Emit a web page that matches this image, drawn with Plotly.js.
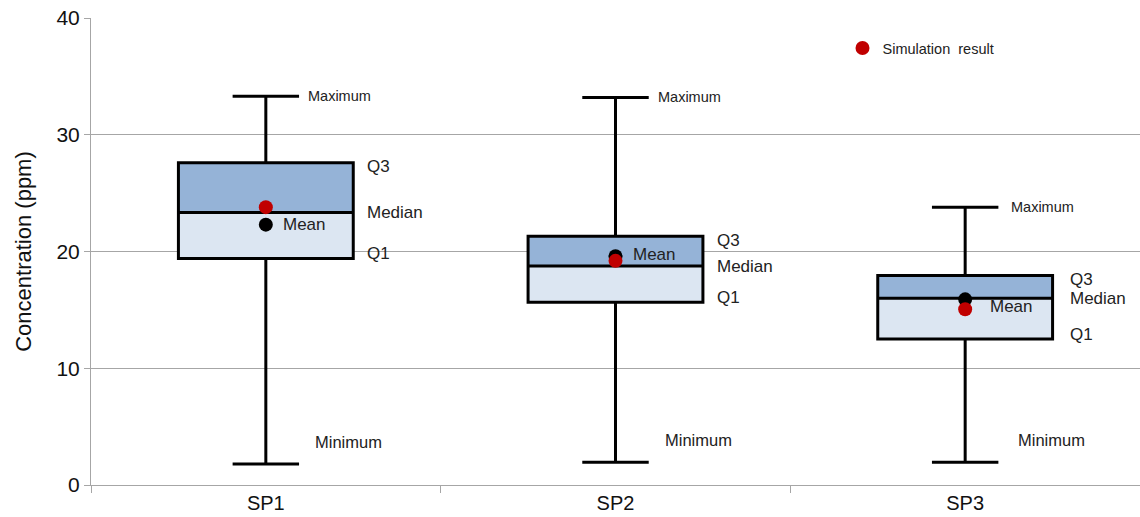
<!DOCTYPE html>
<html><head><meta charset="utf-8">
<script src="https://cdn.plot.ly/plotly-3.0.1.min.js"></script>
<style>html,body{margin:0;padding:0;background:#fff}#chart{width:1140px;height:517px}</style>
</head><body><div id="chart"></div>
<script>
const categories = ['SP1', 'SP2', 'SP3'];
const minimum = [1.8, 1.95, 1.95];
const q1 = [19.4, 15.65, 12.5];
const median = [23.35, 18.75, 16.0];
const q3 = [27.6, 21.3, 17.95];
const maximum = [33.3, 33.2, 23.8];
const meanValues = [22.3, 19.6, 15.9];
const simulation = [23.8, 19.2, 15.05];
const tickValues = [0, 10, 20, 30, 40];

const lowerDiff = categories.map((c, i) => median[i] - q1[i]);
const upperDiff = categories.map((c, i) => q3[i] - median[i]);

const traces = [
  {type: 'bar', x: categories, y: lowerDiff, base: q1, width: 0.5,
   marker: {color: '#dce6f2', line: {width: 0}}, showlegend: false, hoverinfo: 'skip'},
  {type: 'bar', x: categories, y: upperDiff, base: median, width: 0.5,
   marker: {color: '#95b3d7', line: {width: 0}}, showlegend: false, hoverinfo: 'skip'},
  {type: 'box', x: categories, q1: q1, median: median, q3: q3,
   lowerfence: minimum, upperfence: maximum, width: 0.5, whiskerwidth: 0.38,
   fillcolor: 'rgba(0,0,0,0)', line: {color: '#000', width: 3},
   showlegend: false, hoverinfo: 'skip'},
  {type: 'scatter', mode: 'markers', x: categories, y: meanValues,
   marker: {color: '#000', size: 14}, showlegend: false, hoverinfo: 'skip'},
  {type: 'scatter', mode: 'markers', x: categories, y: simulation, name: 'Simulation  result',
   marker: {color: '#c00000', size: 14}, showlegend: true}
];

// label placement offsets (pixels), per category
const labelDx = [0, 0, 4];
const meanLabelDy = [0, 2, -7];

const annotations = [];
const big = {family: 'Liberation Sans, Arial, sans-serif', size: 17, color: '#222'};
const small = {family: 'Liberation Sans, Arial, sans-serif', size: 14.5, color: '#222'};
categories.forEach((c, i) => {
  const base = {x: c, xref: 'x', yref: 'y', showarrow: false, xanchor: 'left', yanchor: 'middle'};
  const dx = labelDx[i];
  annotations.push(Object.assign({}, base, {y: maximum[i], text: 'Maximum', xshift: 40 + dx, font: small}));
  annotations.push(Object.assign({}, base, {y: q3[i], text: 'Q3', xshift: 99 + dx, yshift: -4, font: big}));
  annotations.push(Object.assign({}, base, {y: median[i], text: 'Median', xshift: 99 + dx, font: big}));
  annotations.push(Object.assign({}, base, {y: q1[i], text: 'Q1', xshift: 99 + dx, yshift: 5, font: big}));
  annotations.push(Object.assign({}, base, {y: meanValues[i], text: 'Mean', xshift: 15 + 2 * dx, yshift: meanLabelDy[i], font: big}));
  annotations.push(Object.assign({}, base, {y: minimum[i], text: 'Minimum', xshift: 47 + dx, yshift: 22, font: Object.assign({}, small, {size: 16.5})}));
});

const layout = {
  width: 1140, height: 517,
  margin: {l: 91, r: 0, t: 18, b: 32},
  paper_bgcolor: '#fff', plot_bgcolor: '#fff',
  font: {family: 'Liberation Sans, Arial, sans-serif', color: '#111'},
  barmode: 'overlay',
  showlegend: true,
  legend: {x: 0.7164, y: 0.97, xanchor: 'left', yanchor: 'top', bgcolor: 'rgba(0,0,0,0)',
           font: {family: 'Liberation Sans, Arial, sans-serif', size: 14.5, color: '#222'},
           itemwidth: 30},
  xaxis: {type: 'category', categoryorder: 'array', categoryarray: categories,
          range: [-0.5, 2.5], tickson: 'boundaries', ticks: 'outside', ticklen: 7,
          tickcolor: '#a6a6a6', showline: true, linecolor: '#a6a6a6', linewidth: 1,
          showgrid: false, tickfont: {size: 20, color: '#111'}, fixedrange: true},
  yaxis: {range: [0, 40], tickvals: tickValues, ticktext: tickValues.map(String),
          ticks: 'outside', ticklen: 6, tickcolor: '#a6a6a6',
          showline: true, linecolor: '#a6a6a6', linewidth: 1,
          showgrid: true, gridcolor: '#a6a6a6', gridwidth: 1, zeroline: false,
          tickfont: {size: 21, color: '#111'},
          title: {text: 'Concentration (ppm)', font: {size: 22, color: '#111'}, standoff: 18}},
  annotations: annotations
};

Plotly.newPlot('chart', traces, layout, {staticPlot: true, displayModeBar: false});
</script>
</body></html>
